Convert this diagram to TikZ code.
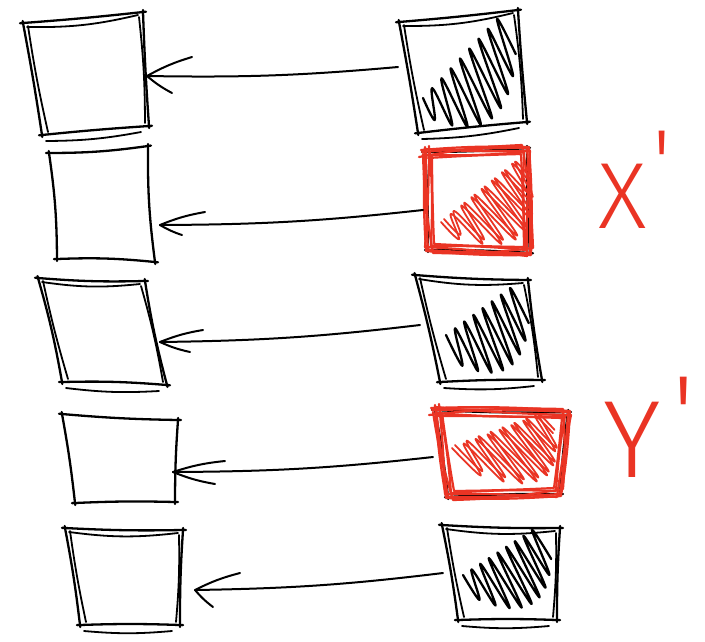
\documentclass[tikz,border=0pt]{standalone}
\usepackage{fontspec}
\usetikzlibrary{calc,fit}
\IfFontExistsTF{Fira Sans Light}
  {\newfontfamily\handfont{Fira Sans Light}[Ligatures=TeXOff]}
  {\newfontfamily\handfont{Liberation Sans}[Ligatures=TeXOff]}
\definecolor{inkred}{RGB}{234,52,36}

\tikzset{
  ink/.style={draw=black, line width=2.3pt, line cap=round, line join=round},
  inkthin/.style={draw=black, line width=1.8pt, line cap=round, line join=round},
  redink/.style={draw=inkred, line width=2.2pt, line cap=round, line join=round},
  redthin/.style={draw=inkred, line width=1.8pt, line cap=round, line join=round},
  arrowink/.style={draw=black, line width=2pt, line cap=round, line join=round},
  slot/.style={inner sep=0pt, outer sep=0pt, minimum size=0pt},
  label/.style={inkred, inner sep=0pt, anchor=base west},
}

% four hand-placed corners of a box and a named node fitted round them
\newcommand\boxcorners[5]{%
  \coordinate (#1-tl) at (#2);
  \coordinate (#1-tr) at (#3);
  \coordinate (#1-br) at (#4);
  \coordinate (#1-bl) at (#5);
  \node[slot, fit=(#1-tl)(#1-tr)(#1-br)(#1-bl)] (#1) {};
}

% one pencil pass round a box, edges slightly overshooting the corners
\newcommand\skbox[3]{%
  \draw[#2, shorten <=-3pt, shorten >=-3pt] (#1-tl) to[bend right=#3] (#1-tr);
  \draw[#2, shorten <=-2pt, shorten >=-2pt] (#1-tr) to[bend right=#3] (#1-br);
  \draw[#2, shorten <=-3pt, shorten >=-3pt] (#1-br) to[bend right=#3] (#1-bl);
  \draw[#2, shorten <=-2pt, shorten >=-2pt] (#1-bl) to[bend right=#3] (#1-tl);
}

% a second, looser pass that doubles the edges
\newcommand\skboxextra[2]{%
  \draw[#2] ($(#1-tl)+(4,4)$) to[bend right=7] ($(#1-tr)+(-5,3)$);
  \draw[#2] ($(#1-tr)+(-4,5)$) to[bend left=3] ($(#1-br)+(-4,-3)$);
  \draw[#2] ($(#1-br)+(-8,6)$) to[bend left=5] ($(#1-bl)+(4,6)$);
  \draw[#2] ($(#1-bl)+(6,-3)$) to[bend left=2] ($(#1-tl)+(5,3)$);
}

% several loose red passes laid over each other
\newcommand\redframe[1]{%
  \foreach \ox/\oy/\ob in {0/0/2, 4/3/-3, -3/5/4, 3/-3/-2, 6/6/1, -1/-2/3}{
    \draw[redink] ($(#1-tl)+(\ox-3,\oy)$) to[bend left=\ob] ($(#1-tr)+(-\oy,\ox)$)
      to[bend left=\ob] ($(#1-br)+(-\ox,-\oy)$)
      to[bend left=\ob] ($(#1-bl)+(\oy,-\ox)$)
      to[bend left=\ob] ($(#1-tl)+(\ox+1,\oy-3)$);
  }
}

% scribbled shading: long narrow loops; the upper turns run along a line,
% each loop goes down along a fixed slant by a length that grows and shrinks
\def\parsequad#1,#2,#3,#4\relax{\def\qa{#1}\def\qb{#2}\def\qc{#3}\def\qd{#4}}
\def\parsefive#1,#2,#3,#4,#5\relax{\def\qa{#1}\def\qb{#2}\def\qc{#3}\def\qd{#4}\def\qe{#5}}
\newcommand\scribble[4]{%
  \parsequad#3\relax
  \edef\scTax{\qa}\edef\scTay{\qb}\edef\scTbx{\qc}\edef\scTby{\qd}%
  \parsefive#4\relax
  \edef\scdx{\qa}\edef\scdy{\qb}\edef\scLa{\qc}\edef\scLm{\qd}\edef\scLb{\qe}%
  \gdef\scpts{}%
  \foreach \sci in {0,...,#2}{%
    \pgfmathsetmacro\scs{\sci/#2}%
    \pgfmathsetmacro\sctx{\scTax+(\scTbx-\scTax)*\scs}%
    \pgfmathsetmacro\scty{\scTay+(\scTby-\scTay)*\scs}%
    \pgfmathsetmacro\scL{\scLa*(1-\scs)*(1-2*\scs)+4*\scLm*\scs*(1-\scs)+\scLb*\scs*(2*\scs-1)}%
    \pgfmathsetmacro\scbx{\sctx+\scL*\scdx}%
    \pgfmathsetmacro\scby{\scty+\scL*\scdy}%
    \xdef\scpts{\scpts(\sctx,\scty)(\scbx,\scby)}%
  }%
  \edef\scnext{\noexpand\draw[#1] plot[smooth, tension=0.6] coordinates {\scpts};}%
  \scnext
}

% hand-drawn arrow from one box to another, with two loose barbs
\newcommand\handarrow[6]{%
  \coordinate (#3-tip) at ($(#3.east)+(#4)$);
  \draw[arrowink] ($(#1.west)+(#2)$) to[bend left=3] (#3-tip);
  \draw[arrowink] (#3-tip) to[bend left=6] ++(#5);
  \draw[arrowink] (#3-tip) to[bend right=6] ++(#6);
}

\begin{document}
\begin{tikzpicture}[x=1pt, y=-1pt]
\fill[white] (0,0) rectangle (705,641);
\useasboundingbox (0,0) rectangle (705,641);

% box corners
\boxcorners{L1}{23,23}{143,12}{149,126}{42,135}
\boxcorners{R1}{399,22}{518,10}{527,122}{418,133}
\boxcorners{L2}{49,153}{148,146}{155,262}{57,259}
\boxcorners{R2}{425,152}{527,148}{530,253}{428,250}
\boxcorners{L3}{38,278}{145,281}{167,385}{62,382}
\boxcorners{R3}{415,275}{528,280}{542,380}{440,382}
\boxcorners{L4}{62,414}{178,420}{175,502}{75,503}
\boxcorners{R4}{435,410}{568,412}{560,494}{448,497}
\boxcorners{L5}{65,528}{183,530}{180,625}{80,625}
\boxcorners{R5}{442,525}{560,528}{557,620}{458,620}

% left column
\skbox{L1}{ink}{1}\skboxextra{L1}{inkthin}
\skbox{L2}{ink}{4}
\skbox{L3}{ink}{3}\skboxextra{L3}{inkthin}
\skbox{L4}{ink}{2}
\skbox{L5}{ink}{2}\skboxextra{L5}{inkthin}

% right column, black
\skbox{R1}{ink}{1}\skboxextra{R1}{inkthin}
\scribble{ink}{8}{423,98,497,19}{0.47,0.88,25,68,40}
\skbox{R3}{ink}{2}\skboxextra{R3}{inkthin}
\scribble{ink}{7}{446,335,510,288}{0.47,0.88,35,64,40}
\skbox{R5}{ink}{2}\skboxextra{R5}{inkthin}
\scribble{ink}{8}{463,575,532,530}{0.55,0.83,30,62,35}

% right column, red
\skbox{R2}{ink}{2}
\redframe{R2}
\scribble{redthin}{7}{441,222,512,164}{0.72,0.69,25,62,20}
\scribble{redthin}{7}{444,219,515,162}{0.72,0.69,23,60,19}
\skbox{R4}{ink}{2}
\redframe{R4}
\scribble{redthin}{7}{452,448,535,416}{0.72,0.69,40,68,25}
\scribble{redthin}{7}{455,445,538,414}{0.72,0.69,38,66,23}

% arrows
\handarrow{R1}{-1,-4.5}{L1}{-2,2.5}{45,-19}{25,17}
\handarrow{R2}{-2,9.5}{L2}{5,21}{45,-13}{22,10}
\handarrow{R3}{5,-3.5}{L3}{-7,10.5}{43,-12}{30,10}
\handarrow{R4}{-2,3.5}{L4}{-5,13.5}{52,-11}{42,12}
\handarrow{R5}{1,0.5}{L5}{12,13.5}{45,-17}{18,17}

% labels
\node[label] (xlabel) at (598,228) {\handfont\fontsize{94}{94}\selectfont X\kern0.06em\raisebox{0.35em}{'}};
\node[label] (ylabel) at (603,477) {\handfont\fontsize{110}{110}\selectfont Y\kern0.11em\raisebox{0.22em}{'}};
\end{tikzpicture}
\end{document}
